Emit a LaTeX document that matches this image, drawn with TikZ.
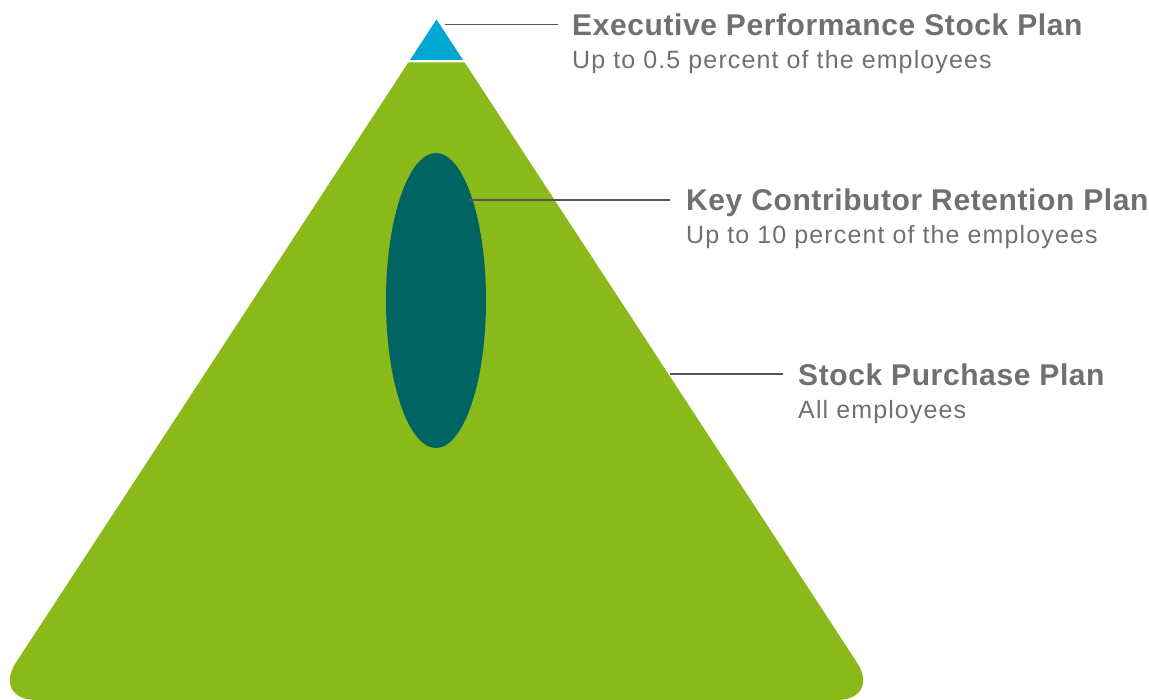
\documentclass[tikz,border=0pt]{standalone}
\usepackage{fontspec}
\setmainfont{Liberation Sans}
\newfontfamily\plantitlefont[LetterSpace=2]{Liberation Sans}
\newfontfamily\plansubfont[LetterSpace=4.5]{Liberation Sans}

\definecolor{plangreen}{HTML}{8AB91A}
\definecolor{planblue}{HTML}{00A7D3}
\definecolor{planteal}{HTML}{006462}
\definecolor{textgray}{HTML}{707070}
\definecolor{linegray}{HTML}{555555}

\begin{document}
\begin{tikzpicture}[
        x=1pt, y=-1pt,
        plantitle/.style={
            anchor=base west, inner sep=0pt, text=textgray,
            font=\plantitlefont\fontsize{30}{34}\selectfont\bfseries
        },
        plansub/.style={
            anchor=base west, inner sep=0pt, text=textgray,
            font=\plansubfont\fontsize{25}{29}\selectfont
        },
        leader/.style={draw=linegray, line width=1.2pt}
    ]
        \useasboundingbox (0,0) rectangle (1149,700);

        % Piramide
        \fill[plangreen] (408.3,62.5) -- (464.7,62.5)
            [rounded corners=45pt] -- (881.5,700) -- (-8.5,700)
            [sharp corners] -- cycle;
        \fill[planblue] (410,60) -- (463,60) -- (436.5,19.5) -- cycle;
        \fill[planteal] (436,300.5) ellipse [x radius=50, y radius=147.5];

        % Textos
        \node[plantitle] (exec) at (572,35.7) {Executive Performance Stock Plan};
        \node[plansub] (execsub) at (572,68.3) {Up to 0.5 percent of the employees};

        \node[plantitle] (key) at (686,210.7) {Key Contributor Retention Plan};
        \node[plansub] (keysub) at (686,243.3) {Up to 10 percent of the employees};

        \node[plantitle] (stock) at (798,385.7) {Stock Purchase Plan};
        \node[plansub] (stocksub) at (798,418.3) {All employees};

        % Lineas
        \coordinate (execa) at (445,24.5);
        \coordinate (execb) at (558,24.5);
        \coordinate (keya) at (469,200);
        \coordinate (keyb) at (670,200);
        \coordinate (stocka) at (670,374);
        \coordinate (stockb) at (783,374);
        \draw[leader] (execa) -- (execb);
        \draw[leader] (keya) -- (keyb);
        \draw[leader] (stocka) -- (stockb);

    \end{tikzpicture}
\end{document}
